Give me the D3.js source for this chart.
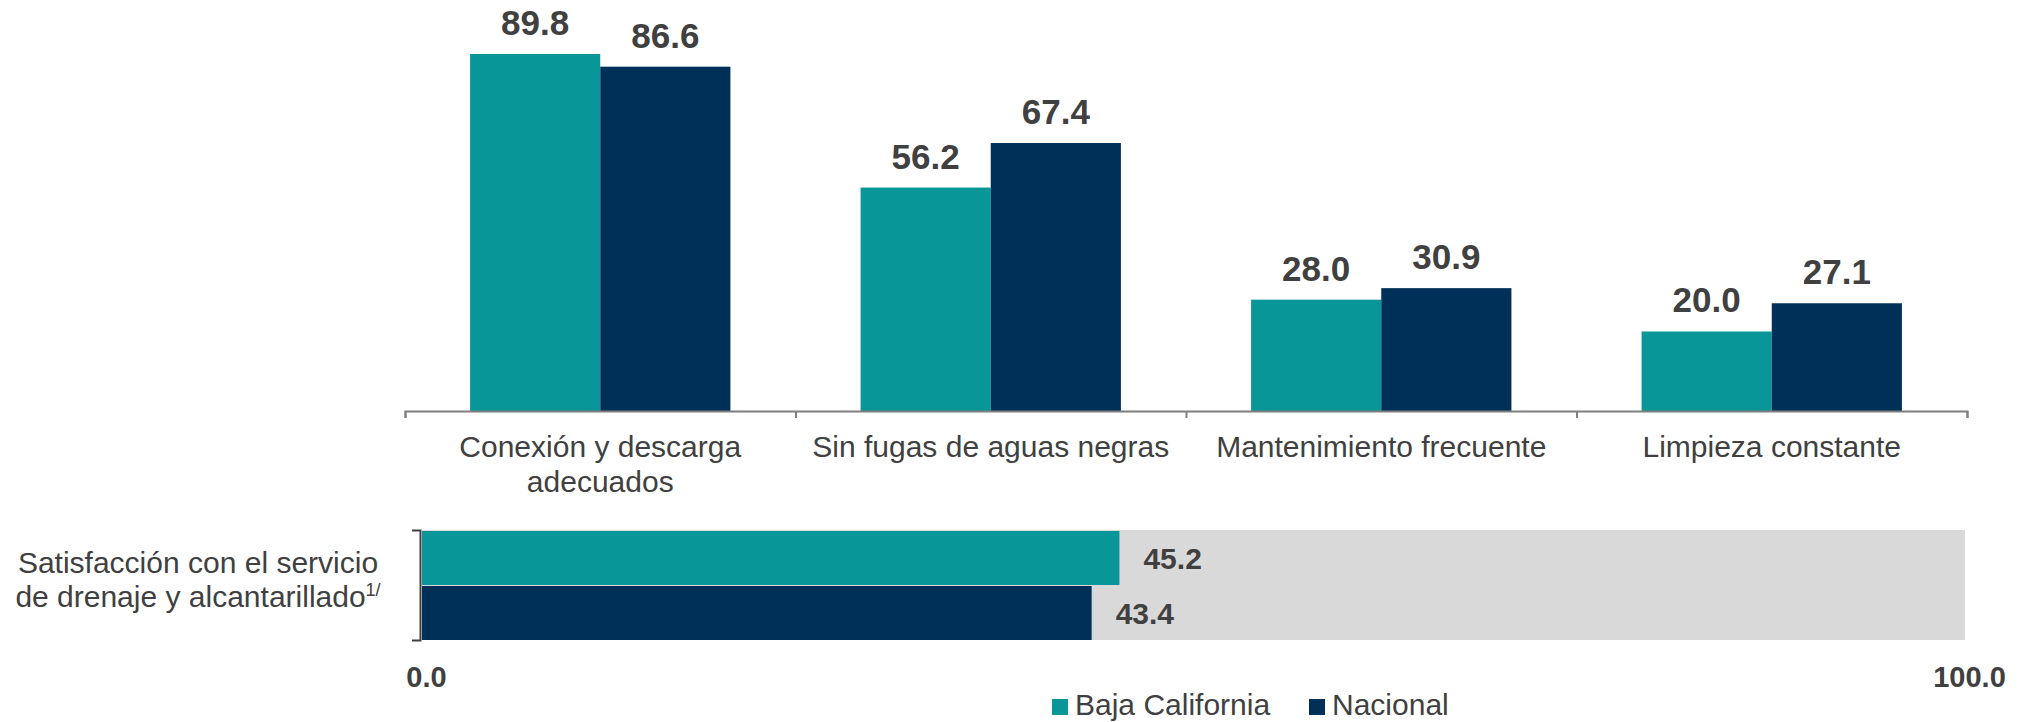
<!DOCTYPE html>
<html lang="es">
<head>
    <meta charset="UTF-8">
    <script src="https://d3js.org/d3.v7.min.js"></script>
    <title>Drenaje y alcantarillado</title>
    <style>
        body { margin: 0; background: #fff; }
        svg { display: block; font-family: "Liberation Sans", Arial, sans-serif; }
    </style>
</head>
<body>
    <div id="chart"></div>
    <script>
        // data
        const categories = ['Conexión y descarga adecuados', 'Sin fugas de aguas negras', 'Mantenimiento frecuente', 'Limpieza constante'];
        const series = ['Baja California', 'Nacional'];
        const bajaCalifornia = [89.8, 56.2, 28.0, 20.0];
        const nacional = [86.6, 67.4, 30.9, 27.1];
        const satisfLabel = ['Satisfacción con el servicio', 'de drenaje y alcantarillado'];
        const satisfValues = [45.2, 43.4];
        const satisfTicks = [0, 100];

        const colors = { 'Baja California': '#099699', 'Nacional': '#003057' };
        const textColor = '#404040';

        const w = 2019, h = 722;
        const svg = d3.select('#chart').append('svg')
            .attr('width', w)
            .attr('height', h);

        // top chart: grouped columns
        const baseY = 411;
        const x0 = d3.scaleBand().domain(categories).range([405, 1967]).padding(0);
        const x1 = d3.scaleBand().domain(series).range([0, x0.bandwidth()]).paddingInner(0).paddingOuter(0.5);
        const y = d3.scaleLinear().domain([0, 100]).range([baseY, baseY - 397.6]);

        const rows = categories.map((c, i) => ({ cat: c, vals: [
            { s: 'Baja California', v: bajaCalifornia[i] },
            { s: 'Nacional', v: nacional[i] }
        ] }));

        const groups = svg.selectAll('g.grp')
            .data(rows)
            .enter()
            .append('g')
            .attr('class', 'grp')
            .attr('transform', d => 'translate(' + x0(d.cat) + ',0)');

        groups.selectAll('rect')
            .data(d => d.vals)
            .enter()
            .append('rect')
            .attr('x', d => x1(d.s))
            .attr('y', d => y(d.v))
            .attr('width', x1.bandwidth())
            .attr('height', d => y(0) - y(d.v))
            .attr('fill', d => colors[d.s]);

        groups.selectAll('text.val')
            .data(d => d.vals)
            .enter()
            .append('text')
            .attr('class', 'val')
            .attr('x', d => x1(d.s) + x1.bandwidth() / 2)
            .attr('y', d => y(d.v) - 19)
            .attr('text-anchor', 'middle')
            .attr('font-size', '35px')
            .attr('font-weight', 'bold')
            .attr('fill', textColor)
            .text(d => d.v.toFixed(1));

        // axis with ticks at the category boundaries
        const edge = d3.scaleLinear().domain([0, categories.length]).range(x0.range());
        const xAxis = d3.axisBottom(edge).ticks(categories.length).tickSize(7).tickSizeOuter(7).tickFormat('');
        const gx = svg.append('g')
            .attr('transform', 'translate(0,' + baseY + ')')
            .call(xAxis);
        gx.selectAll('path, line').attr('stroke', '#7f7f7f').attr('stroke-width', 2);

        // category labels, wrapped to the band width
        svg.selectAll('text.cat')
            .data(categories)
            .enter()
            .append('text')
            .attr('class', 'cat')
            .attr('text-anchor', 'middle')
            .attr('font-size', '30px')
            .attr('fill', textColor)
            .attr('x', d => x0(d) + x0.bandwidth() / 2)
            .attr('y', 457)
            .each(function (d) {
                const el = d3.select(this);
                const cx = x0(d) + x0.bandwidth() / 2;
                const words = d.split(' ');
                let line = [];
                let tspan = el.append('tspan').attr('x', cx).attr('dy', 0);
                words.forEach(word => {
                    line.push(word);
                    tspan.text(line.join(' '));
                    if (tspan.node().getComputedTextLength() > x0.bandwidth() - 6 && line.length > 1) {
                        line.pop();
                        tspan.text(line.join(' '));
                        line = [word];
                        tspan = el.append('tspan').attr('x', cx).attr('dy', 35).text(word);
                    }
                });
            });

        // bottom chart: horizontal bars
        const xs = d3.scaleLinear().domain([0, 100]).range([422, 1965]);
        const ys = d3.scaleBand().domain(series).range([530, 640]).padding(0);

        svg.append('rect')
            .attr('x', xs(0))
            .attr('y', ys.range()[0])
            .attr('width', xs(100) - xs(0))
            .attr('height', ys.range()[1] - ys.range()[0])
            .attr('fill', '#d9d9d9');

        const hdata = series.map((s, i) => ({ s: s, v: satisfValues[i] }));

        svg.selectAll('rect.hbar')
            .data(hdata)
            .enter()
            .append('rect')
            .attr('class', 'hbar')
            .attr('x', xs(0))
            .attr('y', d => ys(d.s) + 1)
            .attr('width', d => xs(d.v) - xs(0))
            .attr('height', ys.bandwidth() - 1)
            .attr('fill', d => colors[d.s]);

        svg.selectAll('text.hval')
            .data(hdata)
            .enter()
            .append('text')
            .attr('class', 'hval')
            .attr('x', d => xs(d.v) + 24)
            .attr('y', d => ys(d.s) + ys.bandwidth() / 2 + 11)
            .attr('font-size', '30px')
            .attr('font-weight', 'bold')
            .attr('fill', textColor)
            .text(d => d.v.toFixed(1));

        // bracket on the left
        const yAxis = d3.axisLeft(ys).tickValues([]).tickSizeOuter(8);
        const gy = svg.append('g')
            .attr('transform', 'translate(420,0)')
            .call(yAxis);
        gy.select('path').attr('stroke', '#404040').attr('stroke-width', 2);

        // 0.0 and 100.0
        const hAxis = d3.axisBottom(xs).tickValues(satisfTicks).tickSize(0).tickPadding(0).tickFormat(d3.format('.1f'));
        const gh = svg.append('g')
            .attr('transform', 'translate(4,666)')
            .call(hAxis);
        gh.select('.domain').remove();
        gh.selectAll('text')
            .attr('font-family', '"Liberation Sans", Arial, sans-serif')
            .attr('font-size', '29px')
            .attr('font-weight', 'bold')
            .attr('fill', textColor);

        // left label
        const sl = svg.append('text')
            .attr('text-anchor', 'middle')
            .attr('font-size', '30px')
            .attr('fill', textColor);
        sl.append('tspan').attr('x', 198).attr('y', 573).text(satisfLabel[0]);
        sl.append('tspan').attr('x', 198).attr('y', 607).text(satisfLabel[1]);
        sl.append('tspan').attr('font-size', '18px').attr('dy', -11).text('1/');

        // legend
        const legX = [1052, 1309];
        const leg = svg.selectAll('g.leg')
            .data(series)
            .enter()
            .append('g')
            .attr('class', 'leg')
            .attr('transform', (d, i) => 'translate(' + legX[i] + ',699)');
        leg.append('rect')
            .attr('width', 16)
            .attr('height', 16)
            .attr('fill', d => colors[d]);
        leg.append('text')
            .attr('x', 23)
            .attr('y', 16)
            .attr('font-size', '30px')
            .attr('fill', textColor)
            .text(d => d);
    </script>
</body>
</html>
